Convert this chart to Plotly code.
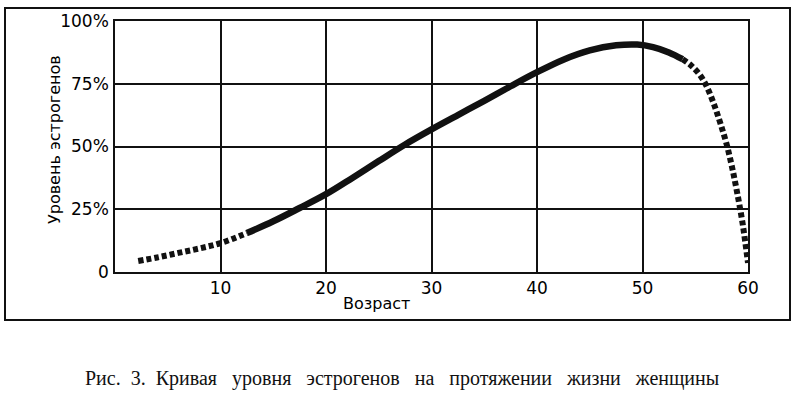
import plotly.graph_objects as go

# Data
age_early = [2.2, 4, 6, 8, 10, 12.5]
lvl_early = [4.4, 5.8, 7.6, 9.4, 11.5, 15.5]

age_mid = [12.5, 15, 17.5, 20, 22.5, 25, 27.5, 30, 32.5, 35, 37.5, 40, 42.5, 45, 47.5, 49.5, 51, 52.5, 53.8]
lvl_mid = [15.5, 20.2, 25.5, 31, 37.5, 44.2, 50.8, 56.8, 62.5, 68.2, 74, 79.6, 84.6, 88.3, 90.3, 90.6, 89.6, 87.5, 84.8]

age_late = [53.8, 54.6, 55.4, 56.1, 56.8, 57.4, 58.0, 58.5, 59.0, 59.5, 60]
lvl_late = [84.8, 82.3, 78.7, 73.8, 66.5, 59, 50.5, 41.5, 31, 19, 3.6]

x_ticks = [10, 20, 30, 40, 50, 60]
x_labels = ["10", "20", "30", "40", "50", "60"]
y_ticks = [0, 25, 50, 75, 100]
y_labels = ["0", "25%", "50%", "75%", "100%"]

caption = "Рис.  3.  Кривая   уровня   эстрогенов   на   протяжении   жизни   женщины"
y_title = "Уровень эстрогенов"
x_title = "Возраст"

fig = go.Figure()
fig.add_trace(go.Scatter(x=age_early, y=lvl_early, mode="lines",
                         line=dict(color="#111", width=6, dash="5px,3px", shape="spline", smoothing=1.0)))
fig.add_trace(go.Scatter(x=age_mid, y=lvl_mid, mode="lines",
                         line=dict(color="#111", width=6.5, shape="spline", smoothing=1.0)))
fig.add_trace(go.Scatter(x=age_late, y=lvl_late, mode="lines",
                         line=dict(color="#111", width=6, dash="5px,3px", shape="spline", smoothing=1.0)))

L, R, T, B = 115, 52, 21, 126
W, H = 800, 398
pw, ph = W - L - R, H - T - B

def px(xp):
    return (xp - L) / pw

def py(yp):
    return (H - B - yp) / ph

fig.update_layout(
    width=W, height=H,
    margin=dict(l=L, r=R, t=T, b=B),
    paper_bgcolor="white", plot_bgcolor="white",
    showlegend=False,
    font=dict(family="DejaVu Sans", size=15, color="#111"),
    xaxis=dict(range=[0, 60], tickvals=x_ticks, ticktext=x_labels,
               showgrid=True, gridcolor="#111", gridwidth=1.5,
               showline=True, linecolor="#111", linewidth=1.5, mirror=True,
               zeroline=False, ticks="", ticklabelstandoff=0,
               tickfont=dict(family="DejaVu Sans", size=17, color="#000")),
    yaxis=dict(range=[0, 100], tickvals=y_ticks, ticktext=y_labels,
               showgrid=True, gridcolor="#111", gridwidth=1.5,
               showline=True, linecolor="#111", linewidth=1.5, mirror=True,
               zeroline=False, ticks="", ticklabelstandoff=1,
               tickfont=dict(family="DejaVu Sans", size=17, color="#000")),
    shapes=[dict(type="rect", xref="paper", yref="paper",
                 x0=px(5), x1=px(790), y0=py(320), y1=py(8),
                 line=dict(color="#111", width=2), layer="below")],
    annotations=[
        dict(text=y_title, xref="paper", yref="paper", x=px(54), y=py(140),
             textangle=-90, showarrow=False, xanchor="center", yanchor="middle",
             font=dict(family="DejaVu Sans", size=16, color="#000")),
        dict(text=x_title, xref="paper", yref="paper", x=px(376), y=py(303),
             showarrow=False, xanchor="center", yanchor="middle",
             font=dict(family="DejaVu Sans", size=16, color="#000")),
        dict(text=caption, xref="paper", yref="paper", x=px(402), y=py(378),
             showarrow=False, xanchor="center", yanchor="middle",
             font=dict(family="Liberation Serif", size=20, color="#111")),
    ],
)

fig.write_html("out.html")
